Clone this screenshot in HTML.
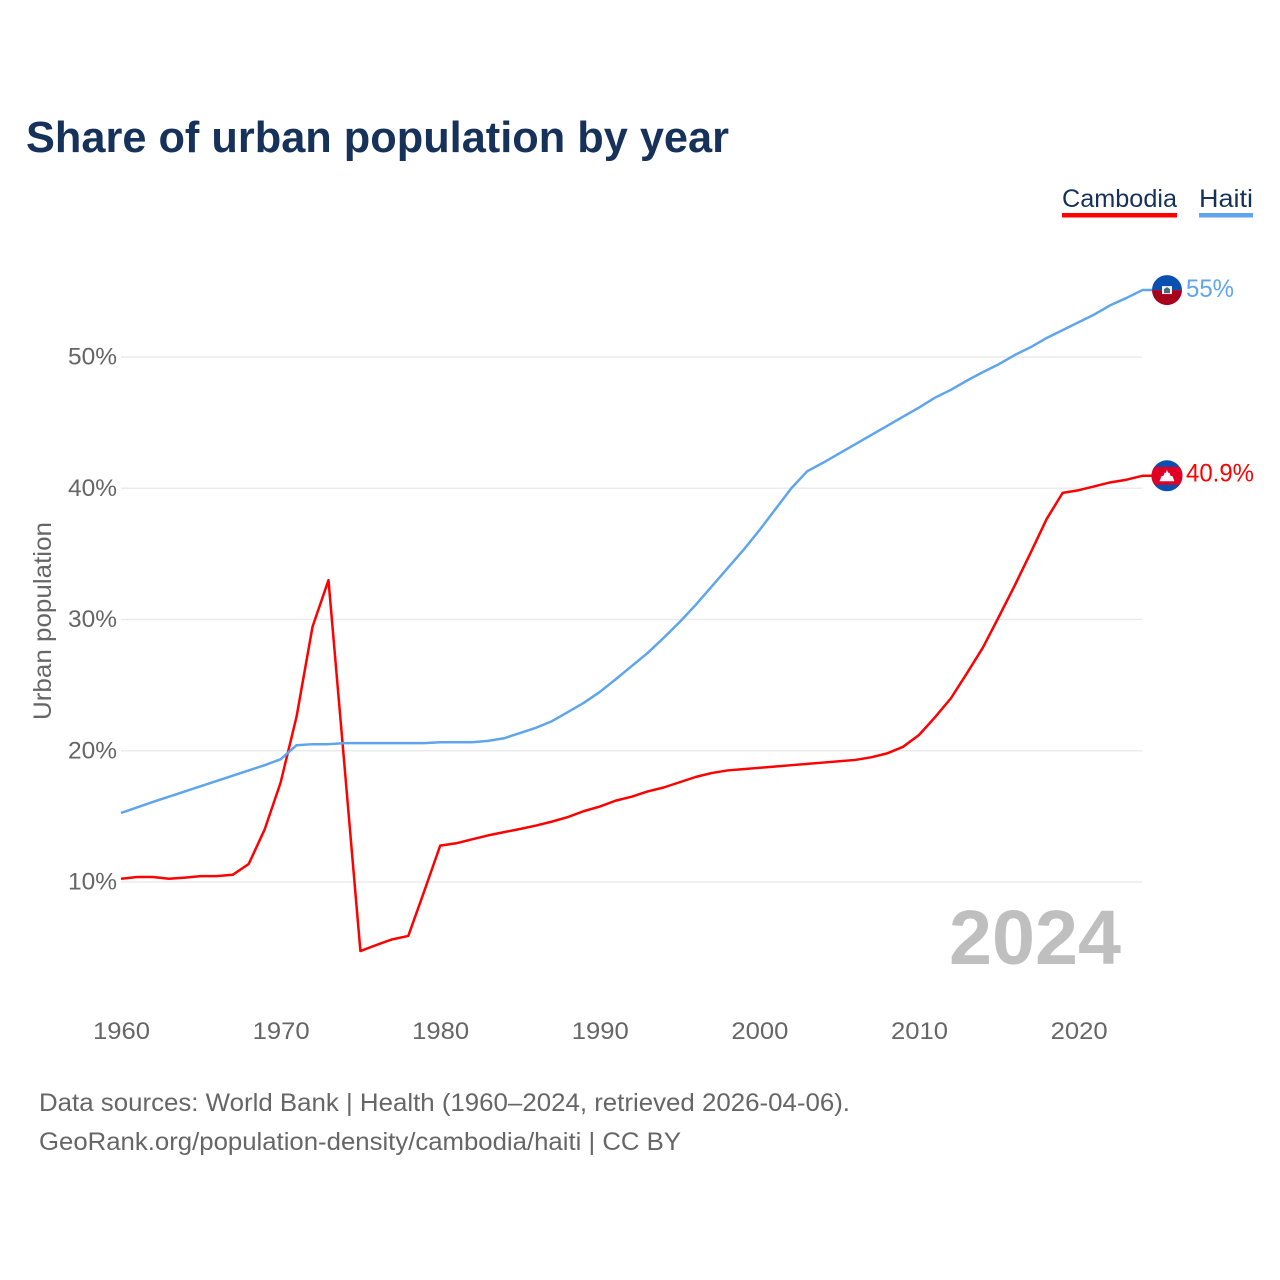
<!DOCTYPE html>
<html lang="en">
<head>
<meta charset="utf-8">
<title>Share of urban population by year</title>
<style>
  html, body { margin: 0; padding: 0; background: #fff; }
  svg { display: block; font-family: "Liberation Sans", sans-serif; }
</style>
</head>
<body>
<svg id="chart" xmlns="http://www.w3.org/2000/svg" width="1280" height="1280" viewBox="0 0 1280 1280">
  <defs>
    <clipPath id="flag-clip-haiti"><circle cx="0" cy="0" r="15"/></clipPath>
    <clipPath id="flag-clip-cambodia"><circle cx="0" cy="0" r="15.5"/></clipPath>
  </defs>
  <rect width="1280" height="1280" fill="#ffffff"/>
  <text x="26" y="152" font-size="44" font-weight="700" fill="#16325a" textLength="703" lengthAdjust="spacingAndGlyphs">Share of urban population by year</text>

  <g>
    <text x="1062" y="207" font-size="25" fill="#16325a" textLength="115" lengthAdjust="spacingAndGlyphs">Cambodia</text>
    <rect x="1062" y="213" width="115" height="4.5" fill="#ff0000"/>
  </g>
  <g>
    <text x="1199" y="207" font-size="25" fill="#16325a" textLength="54" lengthAdjust="spacingAndGlyphs">Haiti</text>
    <rect x="1199" y="213" width="54" height="4.5" fill="#5fa5ee"/>
  </g>

  <g id="grid"></g>
  <g id="y-ticks"></g>
  <g id="x-ticks"></g>

  <text transform="translate(51 720) rotate(-90)" x="0" y="0" font-size="25" fill="#666666" textLength="198" lengthAdjust="spacingAndGlyphs">Urban population</text>

  <text x="949" y="964" font-size="77" font-weight="700" fill="#bfbfbf" textLength="172" lengthAdjust="spacingAndGlyphs">2024</text>

  <g id="series"></g>

  <g id="flag-haiti">
    <g clip-path="url(#flag-clip-haiti)">
      <rect x="-15" y="-15" width="30" height="15" fill="#0a50b0"/>
      <rect x="-15" y="0" width="30" height="15" fill="#a8001f"/>
      <rect x="-5" y="-4" width="10" height="8" fill="#f2f2f2"/>
      <path d="M-3 3 L-3 -1 L0 -3 L3 -1 L3 3 Z" fill="#4a6a80"/>
    </g>
  </g>
  <g id="flag-cambodia">
    <g clip-path="url(#flag-clip-cambodia)">
      <rect x="-16" y="-16" width="32" height="32" fill="#0a50b0"/>
      <rect x="-16" y="-9" width="32" height="18" fill="#e00025"/>
      <path d="M-7.5 5.5 L-5.5 0.5 L-3.5 0 L-2.5 -3 L-1 -3 L0 -6 L1 -3 L2.5 -3 L3.5 0 L5.5 0.5 L7.5 5.5 Z" fill="#ffffff"/>
    </g>
  </g>
  <g id="end-labels"></g>

  <text x="39" y="1111" font-size="25" fill="#666666" textLength="811" lengthAdjust="spacingAndGlyphs">Data sources: World Bank | Health (1960–2024, retrieved 2026-04-06).</text>
  <text x="39" y="1150" font-size="25" fill="#666666" textLength="642" lengthAdjust="spacingAndGlyphs">GeoRank.org/population-density/cambodia/haiti | CC BY</text>
</svg>
<script>
const startYear = 1960;
const cambodiaValues = [10.25,10.38,10.38,10.25,10.33,10.45,10.45,10.55,11.37,14.0,17.57,22.6,29.45,33.0,18.9,4.74,5.2,5.63,5.89,9.3,12.77,12.95,13.25,13.55,13.8,14.04,14.3,14.6,14.95,15.4,15.75,16.2,16.5,16.9,17.2,17.6,18.0,18.3,18.5,18.6,18.7,18.8,18.9,19.0,19.1,19.2,19.3,19.5,19.8,20.3,21.2,22.55,24.0,25.9,27.85,30.2,32.6,35.1,37.66,39.65,39.85,40.15,40.45,40.65,40.95];
const haitiValues = [15.26,15.68,16.1,16.5,16.9,17.3,17.7,18.1,18.5,18.9,19.35,20.42,20.5,20.5,20.58,20.58,20.58,20.58,20.58,20.58,20.65,20.65,20.65,20.75,20.95,21.35,21.75,22.25,22.95,23.65,24.48,25.45,26.45,27.45,28.6,29.8,31.1,32.5,33.9,35.3,36.8,38.4,40.0,41.3,41.95,42.65,43.35,44.05,44.75,45.45,46.15,46.9,47.5,48.2,48.85,49.45,50.15,50.75,51.45,52.05,52.65,53.25,53.95,54.5,55.1];
const yTickValues = [10,20,30,40,50];
const xTickValues = [1960,1970,1980,1990,2000,2010,2020];
const yTickLabels = ['10%','20%','30%','40%','50%'];
const endLabels = ['40.9%','55%'];

const SVG_NS = 'http://www.w3.org/2000/svg';
function xScale(year) { return 121 + (year - 1960) * 15.96; }
function yScale(value) { return 882 - (value - 10) * 13.125; }
function mk(tag, attrs, parent, text) {
  const el = document.createElementNS(SVG_NS, tag);
  for (const k in attrs) el.setAttribute(k, attrs[k]);
  if (text !== undefined) el.textContent = text;
  parent.appendChild(el);
  return el;
}

const gridG = document.getElementById('grid');
const yTicksG = document.getElementById('y-ticks');
yTickValues.forEach(function (v, i) {
  const line = mk('line', { x1: 121, x2: 1142, y1: yScale(v), y2: yScale(v), stroke: '#ebebeb', 'stroke-width': 1.5 }, gridG);
  
  
  const label = mk('text', { x: 117, y: yScale(v) + 7.5, 'font-size': 24, fill: '#666666', 'text-anchor': 'end', textLength: 49, lengthAdjust: 'spacingAndGlyphs' }, yTicksG, yTickLabels[i]);
  
  
});

const xTicksG = document.getElementById('x-ticks');
xTickValues.forEach(function (y) {
  const label = mk('text', { x: xScale(y) + 0.5, y: 1039, 'font-size': 24, fill: '#666666', 'text-anchor': 'middle', textLength: 57, lengthAdjust: 'spacingAndGlyphs' }, xTicksG, String(y));
  
  
});

function linePath(values) {
  const pts = values.map(function (v, i) { return xScale(startYear + i).toFixed(2) + ',' + yScale(v).toFixed(2); });
  const last = values[values.length - 1];
  pts.push('1152,' + yScale(last).toFixed(2));
  return 'M' + pts.join(' L');
}
const seriesG = document.getElementById('series');
const cambodiaLine = mk('path', { d: linePath(cambodiaValues), fill: 'none', stroke: '#ff0000', 'stroke-width': 2.5, 'stroke-linejoin': 'round' }, seriesG);


const haitiLine = mk('path', { d: linePath(haitiValues), fill: 'none', stroke: '#5fa5ee', 'stroke-width': 2.5, 'stroke-linejoin': 'round' }, seriesG);



const camEnd = yScale(cambodiaValues[cambodiaValues.length - 1]);
const haiEnd = yScale(haitiValues[haitiValues.length - 1]);
document.getElementById('flag-cambodia').setAttribute('transform', 'translate(1167 ' + camEnd + ')');
document.getElementById('flag-haiti').setAttribute('transform', 'translate(1167 ' + haiEnd + ')');

const labelsG = document.getElementById('end-labels');
const camLabel = mk('text', { x: 1186, y: camEnd + 5.5, 'font-size': 25, fill: '#ff0000', textLength: 68, lengthAdjust: 'spacingAndGlyphs' }, labelsG, endLabels[0]);


const haiLabel = mk('text', { x: 1186, y: haiEnd + 7, 'font-size': 25, fill: '#5fa5ee', textLength: 48, lengthAdjust: 'spacingAndGlyphs' }, labelsG, endLabels[1]);


</script>
</body>
</html>
